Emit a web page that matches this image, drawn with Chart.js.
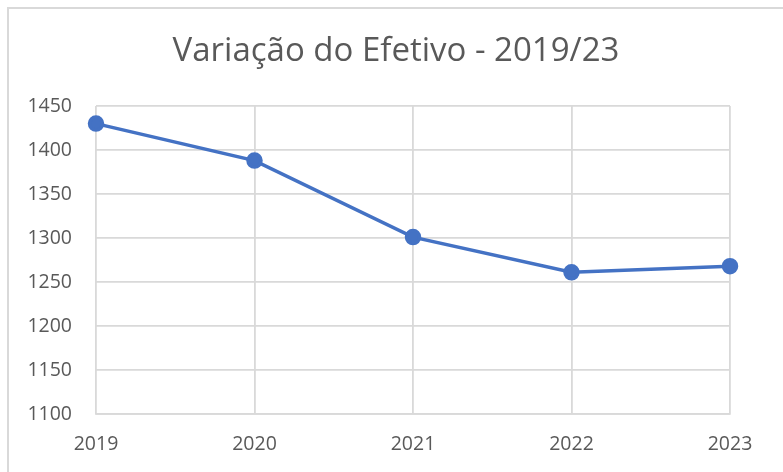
<!DOCTYPE html>
<html>
<head>
<meta charset="utf-8">
<script src="https://cdn.jsdelivr.net/npm/chart.js@4"></script>
<style>
    html, body { margin: 0; padding: 0; background: #fff; overflow: hidden; }
    #frame {
        position: absolute; left: 7px; top: 7px;
        width: 820px; height: 520px;
        border: 2px solid #d9d9d9; box-sizing: border-box;
    }
    #chartCanvas { position: absolute; left: 0; top: 0; }
</style>
</head>
<body>
<div id="frame"></div>
<canvas id="chartCanvas" width="783" height="472"></canvas>
<script>
// Chart data
const years = ['2019', '2020', '2021', '2022', '2023'];
const efetivo = [1430, 1388, 1301, 1261, 1268];
const yTicks = [1100, 1150, 1200, 1250, 1300, 1350, 1400, 1450];
const chartTitle = 'Variação do Efetivo - 2019/23';

const gridColor = '#d9d9d9';
const textColor = '#595959';
const lineColor = '#4472c4';

// Title centred on the whole frame (built-in title only centres between paddings)
const frameTitle = {
    id: 'frameTitle',
    afterDraw(chart) {
        const c = chart.ctx;
        c.save();
        c.font = '33px "Open Sans"';
        c.fillStyle = textColor;
        c.textAlign = 'center';
        c.textBaseline = 'middle';
        c.fillText(chartTitle, 396, 52);
        c.restore();
    }
};

const ctx = document.getElementById('chartCanvas').getContext('2d');
new Chart(ctx, {
    type: 'line',
    data: {
        labels: years,
        datasets: [{
            label: 'Efetivo',
            data: efetivo,
            borderColor: lineColor,
            backgroundColor: lineColor,
            borderWidth: 3.5,
            pointRadius: 6.5,
            pointHoverRadius: 6.5,
            tension: 0,
            fill: false
        }]
    },
    plugins: [frameTitle],
    options: {
        responsive: false,
        animation: false,
        layout: { padding: { left: 0, right: 53, top: 106, bottom: 0 } },
        plugins: {
            legend: { display: false },
            tooltip: { enabled: false },
            title: { display: false }
        },
        scales: {
            x: {
                offset: false,
                grid: { color: gridColor, lineWidth: 1.8, drawTicks: false },
                border: { color: gridColor, width: 1.8 },
                ticks: {
                    color: textColor,
                    font: { family: 'Open Sans', size: 19.5 },
                    padding: 19,
                    maxRotation: 0
                },
                afterFit: function(scale) { scale.height = 58; }
            },
            y: {
                min: yTicks[0],
                max: yTicks[yTicks.length - 1],
                grid: { color: gridColor, lineWidth: 1.8, drawTicks: false },
                border: { display: false },
                afterBuildTicks: function(scale) {
                    scale.ticks = yTicks.map(v => ({ value: v }));
                },
                ticks: {
                    color: textColor,
                    font: { family: 'Open Sans', size: 19.5 },
                    padding: 24,
                    callback: function(value) { return String(value); }
                },
                afterFit: function(scale) { scale.width = 96; }
            }
        }
    }
});
</script>
</body>
</html>
